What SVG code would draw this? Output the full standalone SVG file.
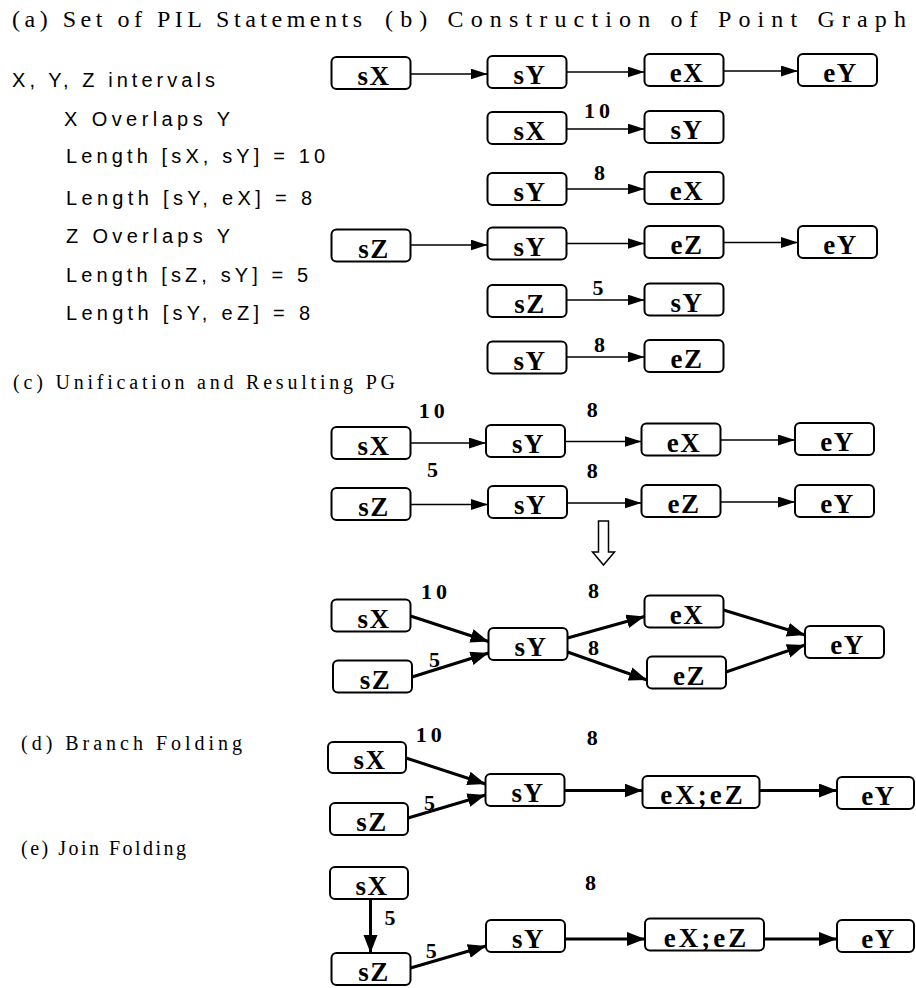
<svg xmlns="http://www.w3.org/2000/svg" width="916" height="988" viewBox="0 0 916 988">
<defs>
<style>
.box{fill:#fff;stroke:#000;stroke-width:2}
.nt{font-family:"Liberation Serif","Times New Roman",serif;font-weight:bold;font-size:27px;text-anchor:middle;letter-spacing:1.5px}
.lbl{font-family:"Liberation Serif","Times New Roman",serif;font-weight:bold;font-size:22px;letter-spacing:4px}
.thin{stroke:#000;stroke-width:1.5;fill:none;marker-end:url(#ah)}
.thick{stroke:#000;stroke-width:3;fill:none;marker-end:url(#ahk)}
.ttl{font-family:"Liberation Serif","Times New Roman",serif;font-size:24px}
.ttl2{font-family:"Liberation Serif","Times New Roman",serif;font-size:20px}
.st{font-family:"Liberation Sans",Arial,sans-serif;font-size:20px}
</style>
<marker id="ah" markerUnits="userSpaceOnUse" markerWidth="20" markerHeight="12" refX="17" refY="5.5" orient="auto"><path d="M0,0 L17,5.5 L0,11 z" fill="#000"/></marker>
<marker id="ahk" markerUnits="userSpaceOnUse" markerWidth="20" markerHeight="16" refX="18" refY="7" orient="auto"><path d="M0,0 L18,7 L0,14 z" fill="#000"/></marker>
</defs>
<rect width="916" height="988" fill="#fff"/>

<g id="titles">
<text class="ttl" x="12" y="27" textLength="350" lengthAdjust="spacing">(a) Set of PIL Statements</text>
<text class="ttl" x="385" y="27" textLength="521" lengthAdjust="spacing">(b) Construction of Point Graph</text>
<text class="ttl2" x="13" y="389" textLength="382" lengthAdjust="spacing">(c) Unification and Resulting PG</text>
<text class="ttl2" x="21" y="750" textLength="221" lengthAdjust="spacing">(d) Branch Folding</text>
<text class="ttl2" x="21" y="855" textLength="165" lengthAdjust="spacing">(e) Join Folding</text>
</g>

<g id="statements">
<text class="st" x="12" y="87" textLength="203" lengthAdjust="spacing">X, Y, Z intervals</text>
<text class="st" x="64" y="126" textLength="166" lengthAdjust="spacing">X Overlaps Y</text>
<text class="st" x="66" y="163" textLength="259" lengthAdjust="spacing">Length [sX, sY] = 10</text>
<text class="st" x="66" y="205" textLength="246" lengthAdjust="spacing">Length [sY, eX] = 8</text>
<text class="st" x="66" y="243" textLength="164" lengthAdjust="spacing">Z Overlaps Y</text>
<text class="st" x="66" y="282" textLength="242" lengthAdjust="spacing">Length [sZ, sY] = 5</text>
<text class="st" x="66" y="320" textLength="244" lengthAdjust="spacing">Length [sY, eZ] = 8</text>
</g>

<g id="connectors">
<line class="thin" x1="410.5" y1="74" x2="487.5" y2="74"/>
<line class="thin" x1="566.5" y1="72" x2="644.5" y2="72"/>
<line class="thin" x1="723.5" y1="71" x2="798" y2="71"/>
<line class="thin" x1="566.5" y1="129" x2="644.5" y2="129"/>
<line class="thin" x1="566.5" y1="189" x2="644.5" y2="189"/>
<line class="thin" x1="410.5" y1="245" x2="487.5" y2="245"/>
<line class="thin" x1="566.5" y1="243.5" x2="644.5" y2="243.5"/>
<line class="thin" x1="723.5" y1="242.5" x2="798" y2="242.5"/>
<line class="thin" x1="566.5" y1="300" x2="644.5" y2="300"/>
<line class="thin" x1="566.5" y1="357" x2="644.5" y2="357"/>
<line class="thin" x1="410.5" y1="443" x2="486" y2="443"/>
<line class="thin" x1="565" y1="441.5" x2="641.5" y2="441.5"/>
<line class="thin" x1="720.5" y1="440" x2="795" y2="440"/>
<line class="thin" x1="410.5" y1="504.5" x2="488" y2="504.5"/>
<line class="thin" x1="567" y1="503" x2="641.5" y2="503"/>
<line class="thin" x1="720.5" y1="502" x2="795" y2="502"/>
<polygon points="598.5,521 608.5,521 608.5,552 614.5,552 603.5,565 592.5,552 598.5,552" fill="#fff" stroke="#000" stroke-width="1.5"/>
<line class="thick" x1="410.5" y1="616" x2="488.5" y2="641.5"/>
<line class="thick" x1="412" y1="677" x2="488.5" y2="653"/>
<line class="thick" x1="567.5" y1="638" x2="644.5" y2="616.5"/>
<line class="thick" x1="567.5" y1="652" x2="647" y2="680"/>
<line class="thick" x1="723.5" y1="610" x2="805" y2="635"/>
<line class="thick" x1="726" y1="672" x2="805" y2="645"/>
<line class="thick" x1="406" y1="758" x2="485.5" y2="784"/>
<line class="thick" x1="408" y1="818" x2="485.5" y2="795"/>
<line class="thick" x1="564.5" y1="790.5" x2="642.5" y2="790.5"/>
<line class="thick" x1="759.5" y1="790.5" x2="837" y2="790.5"/>
<line class="thick" x1="370.5" y1="899" x2="370.5" y2="953"/>
<line class="thick" x1="410.5" y1="968" x2="486" y2="946"/>
<line class="thick" x1="565" y1="939" x2="645" y2="939"/>
<line class="thick" x1="764" y1="939" x2="837" y2="939"/>
</g>

<g id="edge-labels">
<text class="lbl" x="584" y="118">10</text>
<text class="lbl" x="594" y="180">8</text>
<text class="lbl" x="592.5" y="295">5</text>
<text class="lbl" x="594" y="351.5">8</text>
<text class="lbl" x="418.7" y="418">10</text>
<text class="lbl" x="586.7" y="416.7">8</text>
<text class="lbl" x="427" y="476.7">5</text>
<text class="lbl" x="586.7" y="478.3">8</text>
<text class="lbl" x="421" y="599">10</text>
<text class="lbl" x="588" y="598">8</text>
<text class="lbl" x="588" y="655">8</text>
<text class="lbl" x="429" y="667">5</text>
<text class="lbl" x="415.7" y="741.5">10</text>
<text class="lbl" x="586.7" y="745">8</text>
<text class="lbl" x="424" y="810">5</text>
<text class="lbl" x="585" y="890">8</text>
<text class="lbl" x="384.5" y="925">5</text>
<text class="lbl" x="425.7" y="958">5</text>
</g>

<g id="b1-sX"><rect class="box" x="331.5" y="57" width="79" height="32" rx="5"/><text class="nt" x="374" y="85">sX</text></g>
<g id="b1-sY"><rect class="box" x="487.5" y="56" width="79" height="32" rx="5"/><text class="nt" x="530" y="84">sY</text></g>
<g id="b1-eX"><rect class="box" x="644.5" y="54" width="79" height="32" rx="5"/><text class="nt" x="687" y="82">eX</text></g>
<g id="b1-eY"><rect class="box" x="798" y="54" width="79" height="32" rx="5"/><text class="nt" x="840.5" y="82">eY</text></g>
<g id="b2-sX"><rect class="box" x="487.5" y="112" width="79" height="32" rx="5"/><text class="nt" x="530" y="140">sX</text></g>
<g id="b2-sY"><rect class="box" x="644.5" y="111" width="79" height="32" rx="5"/><text class="nt" x="687" y="139">sY</text></g>
<g id="b3-sY"><rect class="box" x="487.5" y="173" width="79" height="32" rx="5"/><text class="nt" x="530" y="201">sY</text></g>
<g id="b3-eX"><rect class="box" x="644.5" y="172" width="79" height="32" rx="5"/><text class="nt" x="687" y="200">eX</text></g>
<g id="b4-sZ"><rect class="box" x="331.5" y="229.5" width="79" height="32" rx="5"/><text class="nt" x="374" y="257.5">sZ</text></g>
<g id="b4-sY"><rect class="box" x="487.5" y="227.5" width="79" height="32" rx="5"/><text class="nt" x="530" y="255.5">sY</text></g>
<g id="b4-eZ"><rect class="box" x="644.5" y="226" width="79" height="32" rx="5"/><text class="nt" x="687" y="254">eZ</text></g>
<g id="b4-eY"><rect class="box" x="798" y="226" width="79" height="32" rx="5"/><text class="nt" x="840.5" y="254">eY</text></g>
<g id="b5-sZ"><rect class="box" x="487.5" y="285" width="79" height="32" rx="5"/><text class="nt" x="530" y="313">sZ</text></g>
<g id="b5-sY"><rect class="box" x="644.5" y="283.5" width="79" height="32" rx="5"/><text class="nt" x="687" y="311.5">sY</text></g>
<g id="b6-sY"><rect class="box" x="487.5" y="341.5" width="79" height="32" rx="5"/><text class="nt" x="530" y="369.5">sY</text></g>
<g id="b6-eZ"><rect class="box" x="644.5" y="340" width="79" height="32" rx="5"/><text class="nt" x="687" y="368">eZ</text></g>

<g id="c1-sX"><rect class="box" x="331.5" y="427" width="79" height="32" rx="5"/><text class="nt" x="374" y="455">sX</text></g>
<g id="c1-sY"><rect class="box" x="486" y="425" width="79" height="32" rx="5"/><text class="nt" x="528.5" y="453">sY</text></g>
<g id="c1-eX"><rect class="box" x="641.5" y="423.5" width="79" height="32" rx="5"/><text class="nt" x="684" y="451.5">eX</text></g>
<g id="c1-eY"><rect class="box" x="795" y="423" width="79" height="32" rx="5"/><text class="nt" x="837.5" y="451">eY</text></g>
<g id="c2-sZ"><rect class="box" x="331.5" y="488" width="79" height="32" rx="5"/><text class="nt" x="374" y="516">sZ</text></g>
<g id="c2-sY"><rect class="box" x="488" y="486" width="79" height="32" rx="5"/><text class="nt" x="530.5" y="514">sY</text></g>
<g id="c2-eZ"><rect class="box" x="641.5" y="485" width="79" height="32" rx="5"/><text class="nt" x="684" y="513">eZ</text></g>
<g id="c2-eY"><rect class="box" x="795" y="485" width="79" height="32" rx="5"/><text class="nt" x="837.5" y="513">eY</text></g>

<g id="m-sX"><rect class="box" x="331.5" y="599.5" width="79" height="32" rx="5"/><text class="nt" x="374" y="627.5">sX</text></g>
<g id="m-sZ"><rect class="box" x="333" y="660.5" width="79" height="32" rx="5"/><text class="nt" x="375.5" y="688.5">sZ</text></g>
<g id="m-sY"><rect class="box" x="488.5" y="628" width="79" height="32" rx="5"/><text class="nt" x="531" y="656">sY</text></g>
<g id="m-eX"><rect class="box" x="644.5" y="595.5" width="79" height="32" rx="5"/><text class="nt" x="687" y="623.5">eX</text></g>
<g id="m-eZ"><rect class="box" x="647" y="656.5" width="79" height="32" rx="5"/><text class="nt" x="689.5" y="684.5">eZ</text></g>
<g id="m-eY"><rect class="box" x="805" y="626" width="79" height="32" rx="5"/><text class="nt" x="847.5" y="654">eY</text></g>

<g id="d-sX"><rect class="box" x="328" y="742" width="78" height="31" rx="5"/><text class="nt" x="370" y="769">sX</text></g>
<g id="d-sZ"><rect class="box" x="330" y="803" width="78" height="32" rx="5"/><text class="nt" x="372" y="831">sZ</text></g>
<g id="d-sY"><rect class="box" x="485.5" y="774" width="79" height="32" rx="5"/><text class="nt" x="528" y="802">sY</text></g>
<g id="d-eXeZ"><rect class="box" x="642.5" y="776" width="117" height="32" rx="5"/><text class="nt" x="703" y="804" style="letter-spacing:3px">eX;eZ</text></g>
<g id="d-eY"><rect class="box" x="837" y="777" width="77" height="32" rx="5"/><text class="nt" x="878.5" y="805">eY</text></g>

<g id="e-sX"><rect class="box" x="330" y="867" width="78" height="32" rx="5"/><text class="nt" x="372" y="895">sX</text></g>
<g id="e-sZ"><rect class="box" x="331.5" y="953" width="79" height="32" rx="5"/><text class="nt" x="374" y="981">sZ</text></g>
<g id="e-sY"><rect class="box" x="486" y="920" width="79" height="32" rx="5"/><text class="nt" x="528.5" y="948">sY</text></g>
<g id="e-eXeZ"><rect class="box" x="645" y="918.5" width="119" height="32" rx="5"/><text class="nt" x="706.5" y="946.5" style="letter-spacing:3px">eX;eZ</text></g>
<g id="e-eY"><rect class="box" x="837" y="920" width="77" height="32" rx="5"/><text class="nt" x="878.5" y="948">eY</text></g>
</svg>
